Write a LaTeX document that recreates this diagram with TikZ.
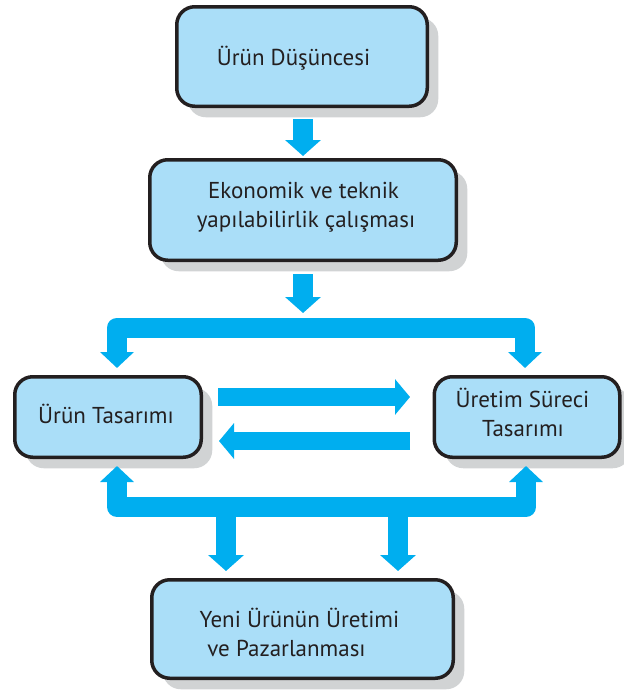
\documentclass[tikz,border=0pt]{standalone}
\usepackage{fontspec}
\setmainfont{PT Sans}
\usetikzlibrary{arrows.meta,shadows}
\definecolor{boxfill}{HTML}{AADEF8}
\definecolor{arrowblue}{HTML}{00AEEF}
\definecolor{boxline}{HTML}{231F20}
\definecolor{shadowgray}{HTML}{D1D3D4}
\begin{document}
\begin{tikzpicture}[x=1pt,y=-1pt,
  box/.style={draw=boxline, line width=3.5pt, fill=boxfill, rounded corners=18pt, inner sep=0pt,
    general shadow={fill=shadowgray, shadow xshift=11pt, shadow yshift=-11pt}},
  lbl/.style={anchor=base, font=\fontsize{23}{27}\selectfont, text=boxline, inner sep=0pt},
  blockarrow/.style={draw=arrowblue, line width=20pt, line join=round,
    -{Triangle[width=35pt,length=16pt]}},
  bracketarrow/.style={draw=arrowblue, line width=20pt, line join=round,
    {Triangle[width=33pt,length=16pt]}-{Triangle[width=33pt,length=16pt]}},
  sidearrow/.style={draw=arrowblue, line width=18pt,
    -{Triangle[width=35pt,length=15pt]}}
]
\useasboundingbox (0,0) rectangle (624,691);

% boxes
\node[box, minimum width=250.5pt, minimum height=99.5pt] (b1) at (302,56.5) {};
\node[box, minimum width=306.5pt, minimum height=100.5pt] (b2) at (303,210) {};
\node[box, minimum width=186.5pt, minimum height=80.5pt] (b3) at (108,417) {};
\node[box, minimum width=185.5pt, minimum height=80.5pt] (b4) at (527,417) {};
\node[box, minimum width=301.5pt, minimum height=98.5pt] (b5) at (302.5,629) {};

% texts
\node[lbl] (t1) at (293.5,65) {Ürün Düşüncesi};
\node[lbl] (t2a) at (303.5,198) {Ekonomik ve teknik};
\node[lbl] (t2b) at (306,227) {yapılabilirlik çalışması};
\node[lbl] (t3) at (106,423) {Ürün Tasarımı};
\node[lbl] (t4a) at (522.5,407) {Üretim Süreci};
\node[lbl] (t4b) at (523,436) {Tasarımı};
\node[lbl] (t5a) at (299.5,627) {Yeni Ürünün Üretimi};
\node[lbl] (t5b) at (286.5,656) {ve Pazarlanması};

% coordinates
\coordinate (a1s) at (303,119);
\coordinate (a1e) at (303,156);
\coordinate (a2s) at (303,274);
\coordinate (a2e) at (303,313);
\coordinate (tbl) at (117,368);
\coordinate (tbr) at (525,368);
\coordinate (bbl) at (117,466);
\coordinate (bbr) at (526,466);
\coordinate (d1s) at (226,507);
\coordinate (d1e) at (226,571);
\coordinate (d2s) at (398,507);
\coordinate (d2e) at (398,571);
\coordinate (h1s) at (218,397);
\coordinate (h1e) at (410,397);
\coordinate (h2s) at (410,441);
\coordinate (h2e) at (219,441);

% arrows
\draw[blockarrow] (a1s) -- (a1e);
\draw[blockarrow] (a2s) -- (a2e);
\draw[bracketarrow] (tbl) -- (117,327.5) -- (525,327.5) -- (tbr);
\draw[sidearrow] (h1s) -- (h1e);
\draw[sidearrow] (h2s) -- (h2e);
\draw[bracketarrow] (bbl) -- (117,507) -- (526,507) -- (bbr);
\draw[blockarrow] (d1s) -- (d1e);
\draw[blockarrow] (d2s) -- (d2e);
\end{tikzpicture}
\end{document}
